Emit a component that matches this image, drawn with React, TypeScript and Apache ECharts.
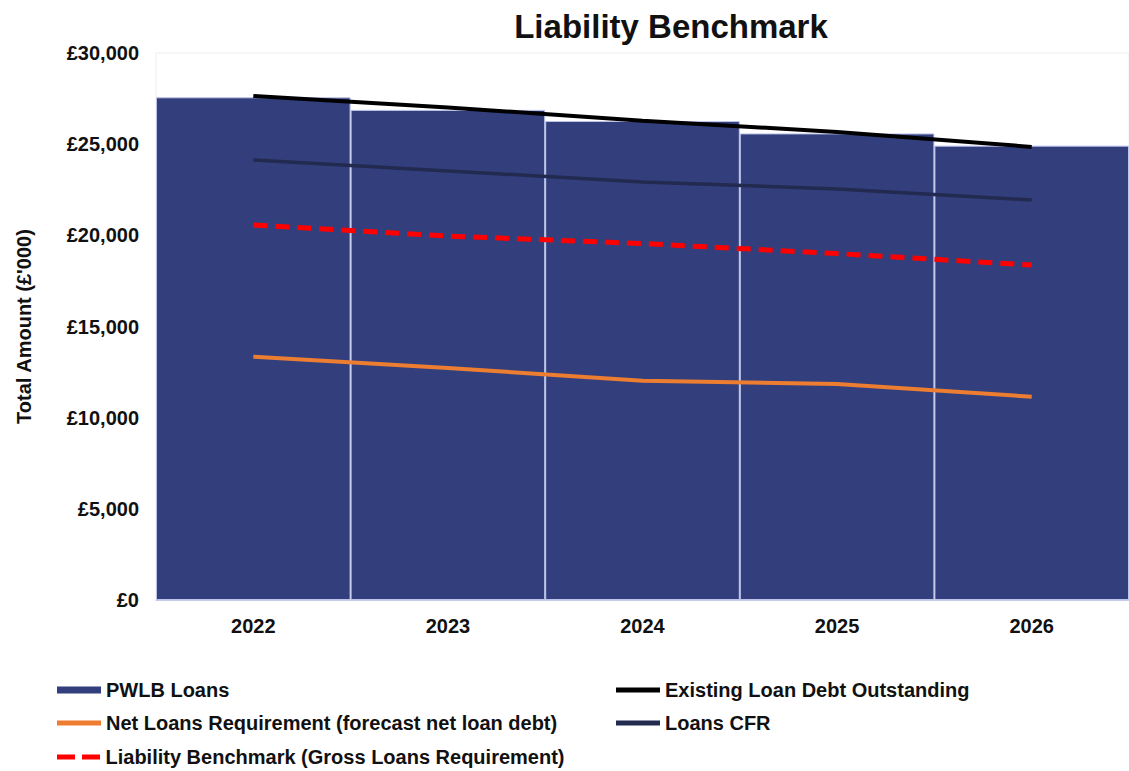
import React, { useEffect, useRef } from "react";
import * as echarts from "echarts";

const categories = ["2022", "2023", "2024", "2025", "2026"];
const pwlbLoans = [27570, 26880, 26270, 25590, 24920];
const existingDebt = [27640, 27010, 26290, 25670, 24850];
const loansCFR = [24130, 23530, 22930, 22540, 21940];
const liabilityBenchmark = [20570, 19960, 19550, 19000, 18370];
const netLoans = [13345, 12720, 12030, 11850, 11150];

const FONT = "'Liberation Sans', Arial, sans-serif";
const SOLID = "path://M0,0H44V5H0Z";
const DASHED = "path://M0,0H18V5H0ZM25,0H43V5H25Z";

export default function App() {
  const ref = useRef<HTMLDivElement>(null);
  useEffect(() => {
    document.body.style.margin = "0";
    if (!ref.current) return;
    const chart = echarts.init(ref.current, undefined, { renderer: "svg" });
    const legendText = { fontFamily: FONT, fontWeight: "bold", fontSize: 20, color: "#111" };
    const mkLegend = (name: string, icon: string, left: number, top: number, h = 5) => ({
      data: [{ name, icon }],
      left,
      top,
      itemWidth: 44,
      itemHeight: h,
      itemGap: 0,
      padding: 0,
      itemStyle: { borderWidth: 0 },
      textStyle: legendText,
      selectedMode: false,
    });
    chart.setOption({
      animation: false,
      backgroundColor: "#ffffff",
      title: {
        text: "Liability Benchmark",
        left: 666,
        textAlign: "center",
        top: 5,
        textStyle: { fontFamily: FONT, fontWeight: "bold", fontSize: 33, color: "#111" },
      },
      grid: {
        left: 156,
        right: -2,
        top: 53,
        bottom: 171,
        show: true,
        borderColor: "#eeeeee",
        borderWidth: 1,
        containLabel: false,
      },
      legend: [
        mkLegend("PWLB Loans", "rect", 57, 680, 7),
        mkLegend("Existing Loan Debt Outstanding", SOLID, 616, 680),
        mkLegend("Net Loans Requirement (forecast net loan debt)", SOLID, 57, 713),
        mkLegend("Loans CFR", SOLID, 616, 713),
        mkLegend("Liability Benchmark (Gross Loans Requirement)", DASHED, 57, 747),
      ],
      xAxis: {
        type: "category",
        data: categories,
        axisLine: { show: true, lineStyle: { color: "#c4cbe8", width: 1 } },
        axisTick: { show: false },
        axisLabel: {
          fontFamily: FONT,
          fontWeight: "bold",
          fontSize: 20,
          color: "#111",
          margin: 16,
        },
      },
      yAxis: {
        type: "value",
        min: 0,
        max: 30000,
        interval: 5000,
        name: "Total Amount (£'000)",
        nameLocation: "middle",
        nameGap: 122,
        nameTextStyle: { fontFamily: FONT, fontWeight: "bold", fontSize: 20, color: "#111" },
        axisLine: { show: false },
        axisTick: { show: false },
        splitLine: { show: false },
        axisLabel: {
          fontFamily: FONT,
          fontWeight: "bold",
          fontSize: 20,
          color: "#111",
          margin: 17,
          formatter: (v: number) => "£" + v.toLocaleString("en-GB"),
        },
      },
      series: [
        {
          name: "PWLB Loans",
          type: "bar",
          data: pwlbLoans,
          barCategoryGap: "0%",
          itemStyle: { color: "#333f7c", borderColor: "#bcc4ea", borderWidth: 1 },
          z: 1,
        },
        {
          name: "Existing Loan Debt Outstanding",
          type: "line",
          data: existingDebt,
          symbol: "none",
          lineStyle: { color: "#000000", width: 4 },
          itemStyle: { color: "#000000" },
          z: 5,
        },
        {
          name: "Net Loans Requirement (forecast net loan debt)",
          type: "line",
          data: netLoans,
          symbol: "none",
          lineStyle: { color: "#ed7d31", width: 4 },
          itemStyle: { color: "#ed7d31" },
          z: 5,
        },
        {
          name: "Loans CFR",
          type: "line",
          data: loansCFR,
          symbol: "none",
          lineStyle: { color: "#222a50", width: 3.5 },
          itemStyle: { color: "#222a50" },
          z: 5,
        },
        {
          name: "Liability Benchmark (Gross Loans Requirement)",
          type: "line",
          data: liabilityBenchmark,
          symbol: "none",
          lineStyle: { color: "#ff0000", width: 5, type: [14, 8] },
          itemStyle: { color: "#ff0000" },
          z: 6,
        },
      ],
    });
    return () => chart.dispose();
  }, []);
  return <div ref={ref} style={{ width: 1129, height: 771 }} />;
}
